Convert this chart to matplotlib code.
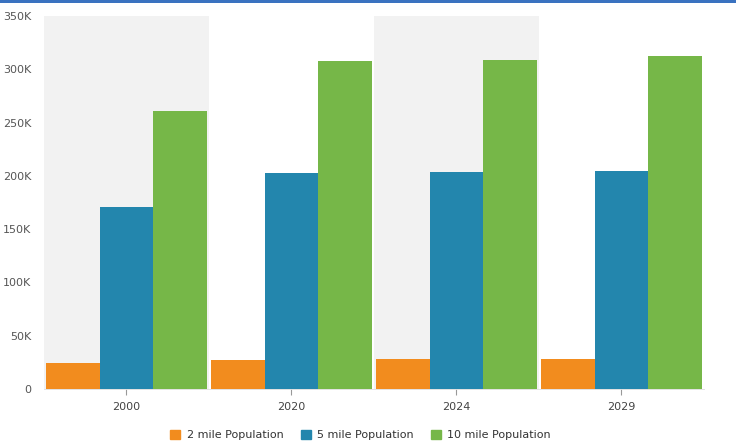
import numpy as np
import matplotlib.pyplot as plt
from matplotlib.patches import Rectangle, Patch
from matplotlib.ticker import FuncFormatter

years = ['2000', '2020', '2024', '2029']
series_names = ['2 mile Population', '5 mile Population', '10 mile Population']
pop_2mile = [24000, 27000, 28000, 28000]
pop_5mile = [171000, 202500, 204000, 204700]
pop_10mile = [261000, 308000, 309000, 312700]
colors = ['#f28c1e', '#2386ad', '#76b748']


def fmt_k(v, pos):
    if v == 0:
        return '0'
    return '%dK' % (v / 1000)


def main():
    fig = plt.figure(figsize=(7.36, 4.45), dpi=100)
    ax = fig.add_axes([0.0598, 0.1258, 0.8965, 0.8382])

    x = np.arange(len(years))
    w = 0.324

    # alternating background bands
    for i in x:
        if i % 2 == 0:
            ax.axvspan(i - 0.5, i + 0.5, color='#f2f2f2', zorder=0, lw=0)

    for k, vals in enumerate([pop_2mile, pop_5mile, pop_10mile]):
        ax.bar(x + (k - 1) * w, vals, width=w, color=colors[k], zorder=2,
               label=series_names[k])

    ax.set_xlim(-0.5, 3.5)
    ax.set_ylim(0, 350000)
    ax.set_yticks(np.arange(0, 350001, 50000))
    ax.yaxis.set_major_formatter(FuncFormatter(fmt_k))
    ax.set_xticks(x)
    ax.set_xticklabels(years)

    for s in ['top', 'right', 'left']:
        ax.spines[s].set_visible(False)
    ax.spines['bottom'].set_color('#dddddd')
    ax.spines['bottom'].set_linewidth(0.6)
    ax.tick_params(axis='y', length=0, labelsize=8, colors='#555555', pad=9)
    ax.tick_params(axis='x', length=4, width=0.8, color='#999999',
                   labelsize=8, labelcolor='#444444', pad=5)

    handles = [Patch(color=c) for c in colors]
    fig.legend(handles, series_names, loc='lower center', ncol=3,
               bbox_to_anchor=(0.49, -0.012), frameon=False, fontsize=8,
               handlelength=0.9, handleheight=0.9, handletextpad=0.6,
               columnspacing=1.5, labelcolor='#333333')

    # blue strip along the top
    fig.add_artist(Rectangle((0, 0.993), 1, 0.007, transform=fig.transFigure,
                             color='#3a72c0', lw=0))

    fig.savefig('out.png', dpi=100)


if __name__ == '__main__':
    main()
